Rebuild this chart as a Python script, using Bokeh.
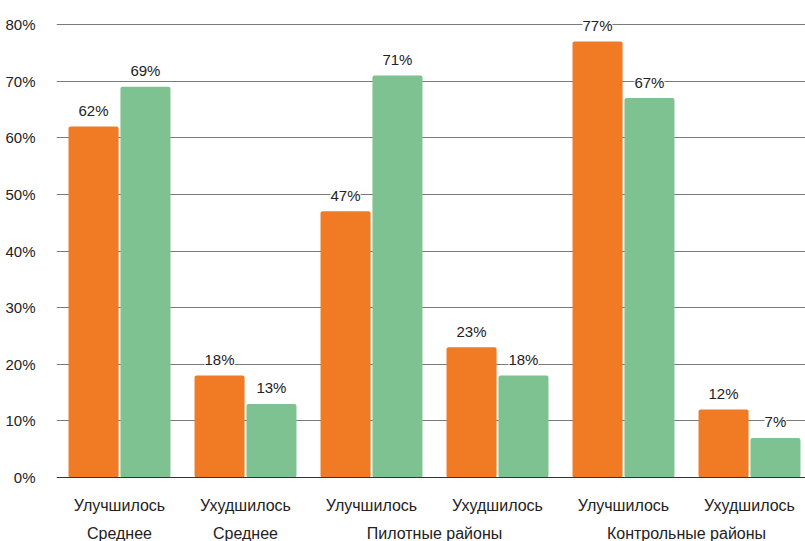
from bokeh.plotting import figure
from bokeh.models import Range1d, FixedTicker, ColumnDataSource, LabelSet, Span
from bokeh.core.properties import value
from bokeh.embed import file_html
from bokeh.resources import INLINE

# ---- data ----
change_labels = ["Улучшилось", "Ухудшилось", "Улучшилось", "Ухудшилось", "Улучшилось", "Ухудшилось"]
region_labels = ["Среднее", "Среднее", "Пилотные районы", "Контрольные районы"]
region_span = [1, 1, 2, 2]
series_orange = [62, 18, 47, 23, 77, 12]
series_green = [69, 13, 71, 18, 67, 7]
y_ticks = [0, 10, 20, 30, 40, 50, 60, 70, 80]

FONT = "Liberation Sans"
ORANGE = "#F17A24"
GREEN = "#7EC291"
TEXT = "#222222"

n = len(change_labels)
xs = list(range(n))
off = 0.206
bw = 0.397

p = figure(width=805, height=541, output_backend="svg", toolbar_location=None,
           x_range=Range1d(-0.5, -0.5 + 749 / 126), y_range=Range1d(-11.30, 84.24),
           x_axis_location=None, min_border_left=56, min_border_right=0,
           min_border_top=0, min_border_bottom=0)
p.outline_line_color = None
p.background_fill_color = "white"
p.border_fill_color = "white"

p.xgrid.visible = False
p.ygrid.ticker = FixedTicker(ticks=y_ticks[1:])
p.ygrid.grid_line_color = "#7a7a7a"
p.ygrid.grid_line_width = 1

ax = p.yaxis[0]
ax.ticker = FixedTicker(ticks=y_ticks)
ax.major_label_overrides = {t: f"{t}%" for t in y_ticks}
ax.axis_line_color = None
ax.major_tick_line_color = None
ax.minor_tick_line_color = None
ax.major_label_standoff = 15
ax.major_label_text_font = FONT
ax.major_label_text_font_size = "15px"
ax.major_label_text_color = TEXT

p.add_layout(Span(location=0, dimension="width", line_color="#333333", line_width=1.2))

src_o = ColumnDataSource(dict(x=[x - off for x in xs], top=series_orange,
                              lab=[f"{v}%" for v in series_orange]))
src_g = ColumnDataSource(dict(x=[x + off for x in xs], top=series_green,
                              lab=[f"{v}%" for v in series_green]))

p.vbar(x="x", top="top", bottom=0, width=bw, source=src_o, fill_color=ORANGE,
       line_color=None, border_radius=2)
p.vbar(x="x", top="top", bottom=0, width=bw, source=src_g, fill_color=GREEN,
       line_color=None, border_radius=2)

for src in (src_o, src_g):
    p.add_layout(LabelSet(x="x", y="top", text="lab", source=src, y_offset=16,
                          text_align="center", text_baseline="middle",
                          text_font=value(FONT), text_font_size=value("15px"),
                          text_color=value(TEXT),
                          background_fill_color=value("white")))

# category labels
p.text(x=xs, y=[-4.94] * n, text=change_labels, text_align="center",
       text_baseline="middle", text_font=value(FONT), text_font_size="16px",
       text_color=TEXT)

centers = []
start = 0
for s in region_span:
    centers.append(start + (s - 1) / 2)
    start += s
p.text(x=centers, y=[-9.89] * len(centers), text=region_labels, text_align="center",
       text_baseline="middle", text_font=value(FONT), text_font_size="16px",
       text_color=TEXT)

open("out.html", "w").write(file_html(p, INLINE))
